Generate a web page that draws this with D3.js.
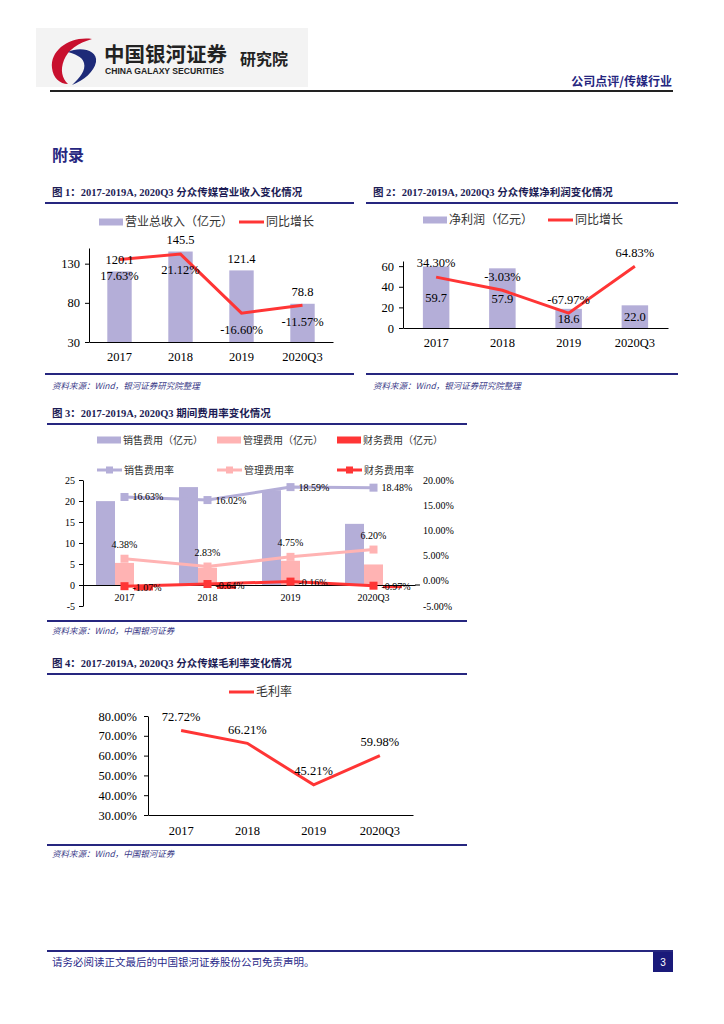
<!DOCTYPE html>
<html>
<head>
<meta charset="utf-8">
<script src="https://cdn.jsdelivr.net/npm/d3@7"></script>
<style>
  body { margin: 0; background: #fff; }
</style>
</head>
<body>
<script>
// chart values
var categories = ["2017", "2018", "2019", "2020Q3"];
var revenue = [120.1, 145.5, 121.4, 78.8];
var revenueGrowth = [0.1763, 0.2112, -0.1660, -0.1157];
var netProfit = [59.7, 57.9, 18.6, 22.0];
var profitGrowth = [0.3430, -0.0303, -0.6797, 0.6483];
var sellingExp = [19.97, 23.31, 22.57, 14.56];
var adminExp = [5.26, 4.12, 5.77, 4.89];
var financeExp = [-1.29, -0.93, -0.19, -0.76];
var sellingRate = [0.1663, 0.1602, 0.1859, 0.1848];
var adminRate = [0.0438, 0.0283, 0.0475, 0.0620];
var financeRate = [-0.0107, -0.0064, -0.0016, -0.0097];
var grossMargin = [0.7272, 0.6621, 0.4521, 0.5998];

var revenueTicks = [30, 80, 130];
var profitTicks = [0, 20, 40, 60];
var expTicks = [-5, 0, 5, 10, 15, 20, 25];
var rateTicks = [-0.05, 0, 0.05, 0.10, 0.15, 0.20];
var marginTicks = [0.3, 0.4, 0.5, 0.6, 0.7, 0.8];

// plain hyphen for negatives, like the report
d3.formatDefaultLocale({decimal: ".", thousands: ",", grouping: [3], currency: ["", ""], minus: "-"});

var SERIF = "'Liberation Serif','Times New Roman','Noto Sans CJK SC',serif",
    CJK = "'Noto Sans CJK SC',sans-serif",
    NAVY = "#26267f",
    PURPLE = "#b4aed8",
    PINK = "#ffb3b3",
    RED = "#ff3535";

var pct = d3.format(".2%"),
    one = d3.format(".1f");

var svg = d3.select("body").append("svg")
    .attr("width", 724)
    .attr("height", 1024);

// ---- page header ----
svg.append("rect").attr("x", 36).attr("y", 28).attr("width", 272).attr("height", 59).attr("fill", "#f3f3f3");
svg.append("path")
    .attr("d", "M92 39 C70 36,50 50,52 68 C53 78,60 84,68 84 C62 78,60 70,64 60 C68 50,78 43,92 39 Z")
    .attr("fill", "#c8102e");
svg.append("path")
    .attr("d", "M68 52 C80 46,98 50,96 62 C94 72,84 80,72 85 C80 78,86 70,84 63 C82 56,74 54,68 52 Z")
    .attr("fill", "#1d2a78");
svg.append("text").attr("x", 104).attr("y", 62).text("中国银河证券")
    .style("font-family", CJK).style("font-weight", "bold").style("font-size", "20.5px").attr("fill", "#222");
svg.append("text").attr("x", 105).attr("y", 74).text("CHINA GALAXY SECURITIES")
    .style("font-family", "'Liberation Sans',Arial,sans-serif").style("font-weight", "bold")
    .style("font-size", "8.6px").attr("fill", "#222");
svg.append("text").attr("x", 240).attr("y", 65).text("研究院")
    .style("font-family", CJK).style("font-weight", "bold").style("font-size", "16px").attr("fill", "#222");
svg.append("text").attr("x", 672).attr("y", 86).attr("text-anchor", "end").text("公司点评/传媒行业")
    .style("font-family", CJK).style("font-weight", "bold").style("font-size", "12px").attr("fill", NAVY);
svg.append("line").attr("x1", 50).attr("x2", 673).attr("y1", 91).attr("y2", 91)
    .attr("stroke", "#222").attr("stroke-width", 2);

svg.append("text").attr("x", 52).attr("y", 161).text("附录")
    .style("font-family", CJK).style("font-weight", "bold").style("font-size", "16px").attr("fill", NAVY);

// title, rules and source note of one figure
function frame(o)
{
    svg.append("text").attr("x", o.tx).attr("y", o.ty).text(o.title)
        .style("font-family", SERIF).style("font-weight", "bold").style("font-size", "10.5px").attr("fill", "#1c1c55");
    [o.top, o.bottom].forEach(function(y) {
        svg.append("line").attr("x1", o.x1).attr("x2", o.x2).attr("y1", y).attr("y2", y)
            .attr("stroke", NAVY).attr("stroke-width", 2);
    });
    svg.append("text").attr("x", o.tx).attr("y", o.sy).text(o.source)
        .style("font-family", CJK).style("font-style", "italic").style("font-size", "8.5px").attr("fill", "#3a3a88");
}

function styleAxis(g, size)
{
    g.select(".domain").attr("stroke", "#000");
    g.selectAll(".tick line").attr("stroke", "#000");
    g.selectAll("text").style("font-family", SERIF).style("font-size", size + "px").attr("fill", "#000");
}

function legendBar(x, y, color, label, size)
{
    svg.append("rect").attr("x", x).attr("y", y - 3.5).attr("width", 24).attr("height", 7).attr("fill", color);
    svg.append("text").attr("x", x + 26).attr("y", y).attr("dy", "0.35em").text(label)
        .style("font-family", CJK).style("font-size", size + "px").attr("fill", "#333");
}

function legendLine(x, y, color, label, size, marker)
{
    svg.append("line").attr("x1", x).attr("x2", x + 25).attr("y1", y).attr("y2", y)
        .attr("stroke", color).attr("stroke-width", 3);
    if (marker)
        svg.append("rect").attr("x", x + 9).attr("y", y - 3.5).attr("width", 7).attr("height", 7).attr("fill", color);
    svg.append("text").attr("x", x + 27).attr("y", y).attr("dy", "0.35em").text(label)
        .style("font-family", CJK).style("font-size", size + "px").attr("fill", "#333");
}

function labels(data, xf, yf, fmt, size, anchor)
{
    svg.append("g").selectAll("text").data(data).join("text")
        .attr("x", xf).attr("y", yf).attr("dy", "0.35em")
        .attr("text-anchor", anchor || "middle")
        .text(fmt)
        .style("font-family", SERIF).style("font-size", size + "px").attr("fill", "#000");
}

// ---- figure 1: revenue ----
frame({tx: 52, ty: 196, x1: 45, x2: 354, top: 203, bottom: 374, sy: 389,
       title: "图 1：2017-2019A, 2020Q3 分众传媒营业收入变化情况",
       source: "资料来源：Wind，银河证券研究院整理"});
legendBar(99, 222, PURPLE, "营业总收入（亿元）", 12);
legendLine(239, 222, RED, "同比增长", 12, false);

var x1 = d3.scaleBand().domain(categories).range([89, 333]);
var y1 = d3.scaleLinear().domain([30, 150]).range([342, 248]);
var y1r = d3.scaleLinear().domain([-0.35, 0.25]).range([342, 248]);
var c1 = function(i) { return x1(categories[i]) + x1.bandwidth() / 2; };

svg.append("g").selectAll("rect").data(revenue).join("rect")
    .attr("x", function(d, i) { return c1(i) - x1.bandwidth() * 0.2; })
    .attr("width", x1.bandwidth() * 0.4)
    .attr("y", function(d) { return y1(d); })
    .attr("height", function(d) { return y1(30) - y1(d); })
    .attr("fill", PURPLE);
svg.append("g").attr("transform", "translate(89,0)")
    .call(d3.axisLeft(y1).tickValues(revenueTicks).tickSize(4).tickSizeOuter(0).tickPadding(5))
    .call(styleAxis, 12.5);
svg.append("g").attr("transform", "translate(0,342)")
    .call(d3.axisBottom(x1).tickSize(0).tickPadding(10))
    .call(styleAxis, 12.5);
svg.append("path").datum(revenueGrowth)
    .attr("d", d3.line().x(function(d, i) { return c1(i); }).y(function(d) { return y1r(d); }))
    .attr("fill", "none").attr("stroke", RED).attr("stroke-width", 3);
labels(revenue, function(d, i) { return c1(i); }, function(d) { return y1(d) - 12; }, one, 12.5);
labels(revenueGrowth, function(d, i) { return c1(i); },
       function(d) { return y1r(d) + 16; }, pct, 12.5);

// ---- figure 2: net profit ----
frame({tx: 373, ty: 196, x1: 366, x2: 678, top: 203, bottom: 374, sy: 389,
       title: "图 2：2017-2019A, 2020Q3 分众传媒净利润变化情况",
       source: "资料来源：Wind，银河证券研究院整理"});
legendBar(423, 220, PURPLE, "净利润（亿元）", 12);
legendLine(548, 220, RED, "同比增长", 12, false);

var x2 = d3.scaleBand().domain(categories).range([403, 668]);
var y2 = d3.scaleLinear().domain([0, 65]).range([328, 261]);
var y2r = d3.scaleLinear().domain([-1.1, 0.8]).range([328, 261]);
var c2 = function(i) { return x2(categories[i]) + x2.bandwidth() / 2; };

svg.append("g").selectAll("rect").data(netProfit).join("rect")
    .attr("x", function(d, i) { return c2(i) - x2.bandwidth() * 0.2; })
    .attr("width", x2.bandwidth() * 0.4)
    .attr("y", function(d) { return y2(d); })
    .attr("height", function(d) { return y2(0) - y2(d); })
    .attr("fill", PURPLE);
svg.append("g").attr("transform", "translate(403,0)")
    .call(d3.axisLeft(y2).tickValues(profitTicks).tickSize(4).tickSizeOuter(0).tickPadding(5))
    .call(styleAxis, 12.5);
svg.append("g").attr("transform", "translate(0,328)")
    .call(d3.axisBottom(x2).tickSize(0).tickPadding(10))
    .call(styleAxis, 12.5);
labels(netProfit, function(d, i) { return c2(i); },
       function(d) { return (y2(d) + y2(0)) / 2; }, one, 12.5);
svg.append("path").datum(profitGrowth)
    .attr("d", d3.line().x(function(d, i) { return c2(i); }).y(function(d) { return y2r(d); }))
    .attr("fill", "none").attr("stroke", RED).attr("stroke-width", 3);
labels(profitGrowth, function(d, i) { return c2(i); },
       function(d) { return y2r(d) - 14; }, pct, 12.5);

// ---- figure 3: expense ratios ----
frame({tx: 52, ty: 417, x1: 47, x2: 467, top: 424, bottom: 621, sy: 634,
       title: "图 3：2017-2019A, 2020Q3 期间费用率变化情况",
       source: "资料来源：Wind，中国银河证券"});
legendBar(97, 440, PURPLE, "销售费用（亿元）", 10);
legendBar(217, 440, PINK, "管理费用（亿元）", 10);
legendBar(337, 440, RED, "财务费用（亿元）", 10);
legendLine(97, 470, PURPLE, "销售费用率", 10, true);
legendLine(217, 470, PINK, "管理费用率", 10, true);
legendLine(337, 470, RED, "财务费用率", 10, true);

var x3 = d3.scaleBand().domain(categories).range([83, 415]);
var y3 = d3.scaleLinear().domain([-5, 25]).range([606, 480]);
var y3r = d3.scaleLinear().domain([-0.05, 0.20]).range([606, 480]);
var c3 = function(i) { return x3(categories[i]) + x3.bandwidth() / 2; };
var sub = d3.scaleBand().domain([0, 1, 2]).range([-28.5, 28.5]);

[[sellingExp, PURPLE], [adminExp, PINK], [financeExp, RED]].forEach(function(s, k) {
    svg.append("g").selectAll("rect").data(s[0]).join("rect")
        .attr("x", function(d, i) { return c3(i) + sub(k); })
        .attr("width", sub.bandwidth())
        .attr("y", function(d) { return y3(Math.max(0, d)); })
        .attr("height", function(d) { return Math.abs(y3(d) - y3(0)); })
        .attr("fill", s[1]);
});
svg.append("g").attr("transform", "translate(83,0)")
    .call(d3.axisLeft(y3).tickValues(expTicks).tickSize(4).tickSizeOuter(0).tickPadding(4))
    .call(styleAxis, 10);
svg.append("g").attr("transform", "translate(0," + y3(0) + ")")
    .call(d3.axisBottom(x3).tickSize(0).tickPadding(8.5))
    .call(styleAxis, 10);
svg.append("line").attr("x1", 415).attr("x2", 420).attr("y1", y3(0)).attr("y2", y3(0)).attr("stroke", "#000");
labels(rateTicks, 423, function(d) { return y3r(d); }, pct, 10, "start");

[[adminRate, PINK], [sellingRate, PURPLE], [financeRate, RED]].forEach(function(s) {
    svg.append("path").datum(s[0])
        .attr("d", d3.line().x(function(d, i) { return c3(i); }).y(function(d) { return y3r(d); }))
        .attr("fill", "none").attr("stroke", s[1]).attr("stroke-width", 3);
    svg.append("g").selectAll("rect").data(s[0]).join("rect")
        .attr("x", function(d, i) { return c3(i) - 4; })
        .attr("y", function(d) { return y3r(d) - 4; })
        .attr("width", 8).attr("height", 8)
        .attr("fill", s[1]);
});
labels(sellingRate, function(d, i) { return c3(i) + 8; }, function(d) { return y3r(d); }, pct, 10, "start");
labels(adminRate, function(d, i) { return c3(i); }, function(d) { return y3r(d) - 14; }, pct, 10);
labels(financeRate, function(d, i) { return c3(i) + 8; }, function(d) { return y3r(d) + 1; }, pct, 10, "start");

// ---- figure 4: gross margin ----
frame({tx: 52, ty: 667, x1: 47, x2: 467, top: 674, bottom: 845, sy: 857,
       title: "图 4：2017-2019A, 2020Q3 分众传媒毛利率变化情况",
       source: "资料来源：Wind，中国银河证券"});
legendLine(229, 692, RED, "毛利率", 12, false);

var x4 = d3.scaleBand().domain(categories).range([148, 413]);
var y4 = d3.scaleLinear().domain([0.3, 0.8]).range([815, 716]);
var c4 = function(i) { return x4(categories[i]) + x4.bandwidth() / 2; };

svg.append("g").attr("transform", "translate(148,0)")
    .call(d3.axisLeft(y4).tickValues(marginTicks).tickFormat(pct).tickSize(4).tickSizeOuter(0).tickPadding(7))
    .call(styleAxis, 12.5);
svg.append("g").attr("transform", "translate(0,815)")
    .call(d3.axisBottom(x4).tickSize(0).tickPadding(11))
    .call(styleAxis, 12.5);
svg.append("path").datum(grossMargin)
    .attr("d", d3.line().x(function(d, i) { return c4(i); }).y(function(d) { return y4(d); }))
    .attr("fill", "none").attr("stroke", RED).attr("stroke-width", 3);
labels(grossMargin, function(d, i) { return c4(i); }, function(d) { return y4(d) - 14; }, pct, 12.5);

// ---- footer ----
svg.append("line").attr("x1", 47).attr("x2", 673).attr("y1", 951).attr("y2", 951)
    .attr("stroke", NAVY).attr("stroke-width", 2);
svg.append("text").attr("x", 52).attr("y", 966).text("请务必阅读正文最后的中国银河证券股份公司免责声明。")
    .style("font-family", CJK).style("font-size", "10.5px").attr("fill", "#2b2b8a");
svg.append("rect").attr("x", 653).attr("y", 952).attr("width", 20).attr("height", 20).attr("fill", "#1a1a7a");
svg.append("text").attr("x", 663).attr("y", 962).attr("dy", "0.35em").attr("text-anchor", "middle").text("3")
    .style("font-family", "'Liberation Sans',Arial,sans-serif").style("font-size", "10px").attr("fill", "#fff");
</script>
</body>
</html>
